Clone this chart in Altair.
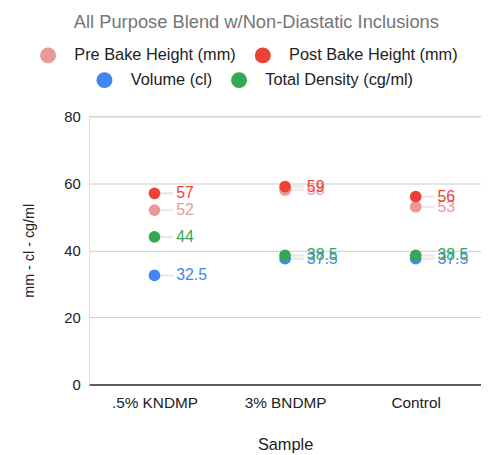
import altair as alt
import pandas as pd

samples = [".5% KNDMP", "3% BNDMP", "Control"]
series = ["Pre Bake Height (mm)", "Post Bake Height (mm)", "Volume (cl)", "Total Density (cg/ml)"]
colors = ["#ea9999", "#ea4335", "#4285f4", "#34a853"]
pre_bake = [52, 58, 53]
post_bake = [57, 59, 56]
volume = [32.5, 37.5, 37.5]
density = [44, 38.5, 38.5]

rows = []
for name, vals in zip(series, [pre_bake, post_bake, volume, density]):
    for s, v in zip(samples, vals):
        rows.append({"Sample": s, "Series": name, "Value": v, "Label": f"{v:g}"})
df = pd.DataFrame(rows)

FONT = "Liberation Sans"

x = alt.X("Sample:N", sort=samples, scale=alt.Scale(type="point", padding=0.5),
          axis=alt.Axis(title="Sample", labelAngle=0, labelFontSize=15.5, labelColor="#222",
                        titleFontSize=16.5, titleFontWeight="normal", titleColor="#222",
                        ticks=False, domain=True, domainColor="#333333", domainWidth=1.5,
                        grid=False, labelPadding=11, titlePadding=26))
y = alt.Y("Value:Q", scale=alt.Scale(domain=[0, 80]),
          axis=alt.Axis(title="mm - cl - cg/ml", values=[0, 20, 40, 60, 80], labelFontSize=15,
                        labelColor="#222", titleFontSize=14.5, titleFontWeight="normal",
                        titleColor="#222", ticks=False, domain=False, grid=True,
                        gridColor="#cccccc", gridWidth=1, labelPadding=9, titlePadding=28))


def legend(lx, ly):
    return alt.Legend(title=None, orient="none", legendX=lx, legendY=ly, direction="horizontal",
                      symbolType="circle", symbolSize=260, symbolStrokeWidth=0, labelFontSize=16.5,
                      labelColor="#222", columnPadding=18, labelOffset=18, labelLimit=400,
                      symbolOpacity=1)


first = alt.FieldOneOfPredicate(field="Series", oneOf=series[:2])
second = alt.FieldOneOfPredicate(field="Series", oneOf=series[2:])
c1 = alt.Color("Series:N", sort=series[:2], scale=alt.Scale(domain=series[:2], range=colors[:2]),
               legend=legend(-50, -70))
c2 = alt.Fill("Series:N", sort=series[2:], scale=alt.Scale(domain=series[2:], range=colors[2:]),
              legend=legend(7, -45))

base = alt.Chart(df)

leader = base.mark_tick(size=18, thickness=2.5, xOffset=10, color="#e3e3e3", orient="horizontal").encode(
    x=x, y=y)
pts1 = base.transform_filter(first).mark_circle(size=140, opacity=1).encode(x=x, y=y, color=c1)
pts2 = base.transform_filter(second).mark_circle(size=140, opacity=1).encode(x=x, y=y, fill=c2)
lab1 = base.transform_filter(first).mark_text(align="left", baseline="middle", dx=22, fontSize=16,
                                              font=FONT).encode(x=x, y=y, text="Label:N", color=c1)
lab2 = base.transform_filter(second).mark_text(align="left", baseline="middle", dx=22, fontSize=16,
                                               font=FONT).encode(x=x, y=y, text="Label:N", fill=c2)

chart = alt.layer(leader, pts1, lab1, pts2, lab2).properties(
    width=396, height=271,
    title=alt.TitleParams("All Purpose Blend w/Non-Diastatic Inclusions", fontSize=18.5,
                          fontWeight="normal", color="#757575", anchor="middle", offset=16, dx=-29),
    padding={"left": 13, "top": 2, "right": 0, "bottom": 5},
).configure_view(stroke="transparent").configure(font=FONT)

chart.save("out.html", embed_options={"renderer": "svg", "actions": False})
